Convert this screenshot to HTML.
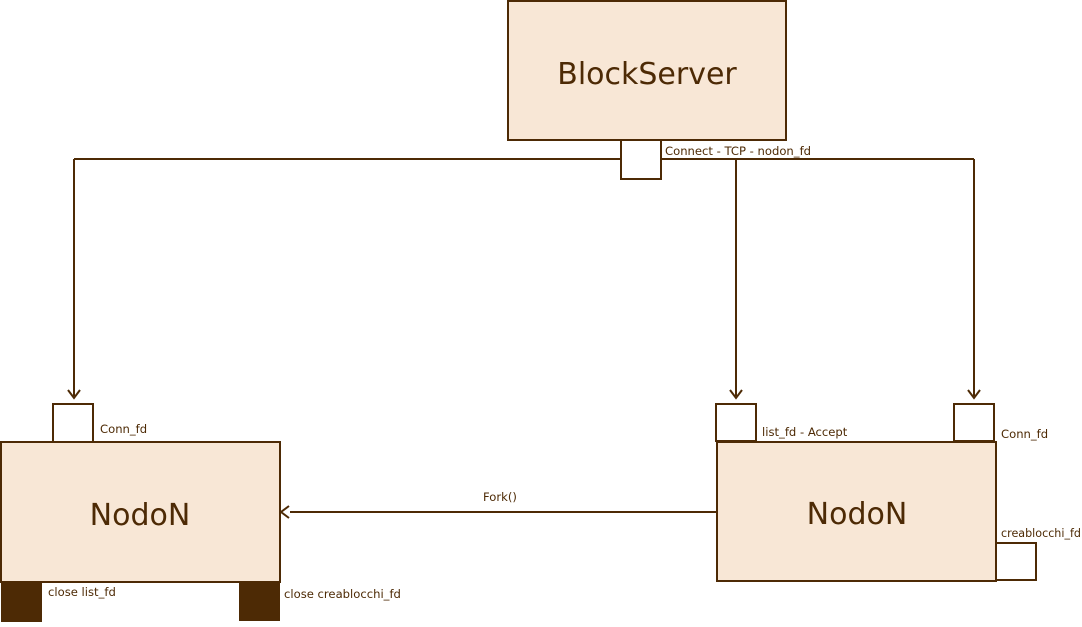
<!DOCTYPE html>
<html><head><style>body{margin:0;background:#fff}</style></head><body>
<svg width="1082" height="622" xmlns="http://www.w3.org/2000/svg" font-family="'DejaVu Sans', sans-serif" fill="#4d2a05">
<g stroke="#4d2a05" stroke-width="2">
<rect x="508" y="1" width="278" height="139" fill="#f8e7d6"/>
<line x1="74" y1="159" x2="974" y2="159"/>
<line x1="74" y1="159" x2="74" y2="396"/>
<line x1="736" y1="159" x2="736" y2="396"/>
<line x1="974" y1="159" x2="974" y2="396"/>
<rect x="621" y="140" width="40" height="39" fill="#fff"/>
<rect x="1" y="442" width="279" height="140" fill="#f8e7d6"/>
<rect x="53" y="404" width="40" height="38" fill="#fff"/>
<rect x="717" y="442" width="279" height="139" fill="#f8e7d6"/>
<rect x="716" y="404" width="40" height="37" fill="#fff"/>
<rect x="954" y="404" width="40" height="37" fill="#fff"/>
<rect x="996" y="543" width="40" height="37" fill="#fff"/>
<line x1="717" y1="512" x2="290" y2="512"/>
</g>
<rect x="1" y="582" width="41" height="40" fill="#4d2a05"/>
<rect x="239" y="582" width="41" height="39" fill="#4d2a05"/>
<g fill="none" stroke="#4d2a05" stroke-width="2">
<polyline points="68,390 74,398 80,390"/>
<polyline points="730,390 736,398 742,390"/>
<polyline points="968,390 974,398 980,390"/>
<polyline points="289,506 281,512 289,518"/>
</g>
<text x="647" y="84" font-size="30" text-anchor="middle">BlockServer</text>
<text x="140" y="525" font-size="30" text-anchor="middle">NodoN</text>
<text x="857" y="524" font-size="30" text-anchor="middle">NodoN</text>
<g font-size="11.6">
<text x="665" y="155">Connect - TCP -  nodon_fd</text>
<text x="100" y="433">Conn_fd</text>
<text x="762" y="436">list_fd - Accept</text>
<text x="1001" y="438">Conn_fd</text>
<text x="1001" y="537" textLength="80" lengthAdjust="spacingAndGlyphs">creablocchi_fd</text>
<text x="483" y="501">Fork()</text>
<text x="48" y="596">close list_fd</text>
<text x="284" y="598">close creablocchi_fd</text>
</g>
</svg>
</body></html>
